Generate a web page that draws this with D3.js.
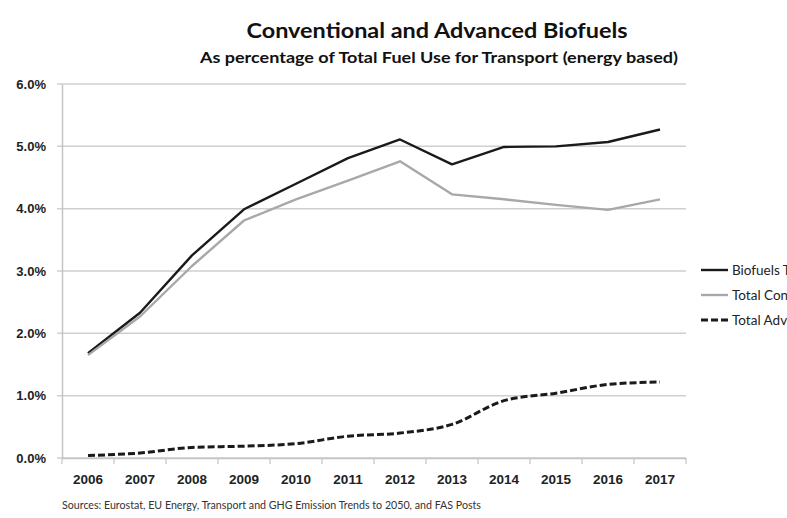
<!DOCTYPE html>
<html>
<head>
<meta charset="utf-8">
<script src="https://cdn.jsdelivr.net/npm/d3@7"></script>
<style>
  body { margin: 0; background: #fff; }
  svg { display: block; font-family: Lato, "Open Sans", sans-serif; }
</style>
</head>
<body>
<div id="chart"></div>
<script>
// chart data
var years = ["2006", "2007", "2008", "2009", "2010", "2011", "2012", "2013", "2014", "2015", "2016", "2017"];
var biofuelsTotal = [1.68, 2.33, 3.25, 3.99, 4.40, 4.81, 5.11, 4.71, 4.99, 5.00, 5.07, 5.27];
var totalConventional = [1.65, 2.27, 3.08, 3.81, 4.15, 4.45, 4.76, 4.23, 4.15, 4.06, 3.98, 4.15];
var totalAdvanced = [0.04, 0.08, 0.17, 0.19, 0.23, 0.35, 0.40, 0.54, 0.92, 1.04, 1.18, 1.22];
var seriesNames = ["Biofuels Total", "Total Conventional", "Total Advanced"];
var yTicks = [0, 1, 2, 3, 4, 5, 6];

var svgWidth = 787;
var svgHeight = 518;
var margin = { top: 84, right: 101, bottom: 60, left: 62 };
var width = svgWidth - margin.left - margin.right;
var height = svgHeight - margin.top - margin.bottom;

var svg = d3.select("#chart")
  .append("svg")
  .attr("width", svgWidth)
  .attr("height", svgHeight);

var chartGroup = svg.append("g")
  .attr("transform", `translate(${margin.left}, ${margin.top})`);

var xScale = d3.scaleBand().domain(years).range([0, width]);
var yScale = d3.scaleLinear().domain([0, 6]).range([height, 0]);

// gridlines
chartGroup.append("g")
  .selectAll("line")
  .data(yTicks)
  .enter()
  .append("line")
  .attr("x1", -5)
  .attr("x2", width)
  .attr("y1", d => yScale(d))
  .attr("y2", d => yScale(d))
  .attr("stroke", "#cfcfcf")
  .attr("stroke-width", 1.5);

// y axis
var leftAxis = d3.axisLeft(yScale)
  .tickValues(yTicks)
  .tickSize(0)
  .tickPadding(16)
  .tickFormat(d => d.toFixed(1) + "%");
var yAxis = chartGroup.append("g").call(leftAxis);
yAxis.select(".domain").attr("stroke", "#c4c4c4").attr("stroke-width", 1.5);
yAxis.selectAll("text")
  .attr("font-size", 13)
  .attr("font-weight", "bold")
  .attr("fill", "#222");

// x axis
var bottomAxis = d3.axisBottom(xScale).tickSize(0).tickPadding(16);
var xAxis = chartGroup.append("g")
  .attr("transform", `translate(0, ${height})`)
  .call(bottomAxis);
xAxis.select(".domain").attr("stroke", "#c4c4c4").attr("stroke-width", 1.5);
xAxis.selectAll("text")
  .attr("font-size", 13.5)
  .attr("font-weight", "bold")
  .attr("fill", "#222");

// category boundary ticks
var bounds = years.map(d => xScale(d)).concat([width]);
xAxis.append("g")
  .selectAll("line")
  .data(bounds)
  .enter()
  .append("line")
  .attr("x1", d => d)
  .attr("x2", d => d)
  .attr("y1", 0)
  .attr("y2", 6)
  .attr("stroke", "#c4c4c4")
  .attr("stroke-width", 1.2);

// lines
var styles = [
  { data: biofuelsTotal, color: "#1a1a1a", width: 2.4, dash: null, curve: d3.curveLinear },
  { data: totalConventional, color: "#a8a8a8", width: 2.4, dash: null, curve: d3.curveLinear },
  { data: totalAdvanced, color: "#1a1a1a", width: 3, dash: "7,3", curve: d3.curveMonotoneX }
];

styles.forEach(function(s) {
  var lineGen = d3.line()
    .x((d, i) => xScale(years[i]) + xScale.bandwidth() / 2)
    .y(d => yScale(d))
    .curve(s.curve);
  chartGroup.append("path")
    .datum(s.data)
    .attr("d", lineGen)
    .attr("fill", "none")
    .attr("stroke", s.color)
    .attr("stroke-width", s.width)
    .attr("stroke-dasharray", s.dash)
    .attr("stroke-linejoin", "round");
});

// legend (runs off the right edge, as in the original)
var legend = svg.append("g").attr("transform", "translate(701, 270)");
styles.forEach(function(s, i) {
  var row = legend.append("g").attr("transform", `translate(0, ${i * 25})`);
  row.append("line")
    .attr("x1", 0)
    .attr("x2", 27)
    .attr("stroke", s.color)
    .attr("stroke-width", s.width)
    .attr("stroke-dasharray", s.dash);
  row.append("text")
    .attr("x", 31)
    .attr("y", 5)
    .attr("font-size", 13.5)
    .attr("fill", "#222")
    .text(seriesNames[i]);
});

// titles
svg.append("text")
  .attr("x", 437)
  .attr("y", 38)
  .attr("text-anchor", "middle")
  .attr("font-size", 21)
  .attr("font-weight", "bold")
  .attr("fill", "#111")
  .attr("textLength", 381)
  .attr("lengthAdjust", "spacingAndGlyphs")
  .text("Conventional and Advanced Biofuels");

svg.append("text")
  .attr("x", 439)
  .attr("y", 63)
  .attr("text-anchor", "middle")
  .attr("font-size", 14.5)
  .attr("font-weight", "bold")
  .attr("fill", "#111")
  .attr("textLength", 478)
  .attr("lengthAdjust", "spacingAndGlyphs")
  .text("As percentage of Total Fuel Use for Transport (energy based)");

// source note
svg.append("text")
  .attr("x", 62)
  .attr("y", 509)
  .attr("font-size", 10.5)
  .attr("fill", "#333")
  .attr("textLength", 419)
  .attr("lengthAdjust", "spacingAndGlyphs")
  .text("Sources: Eurostat, EU Energy, Transport and GHG Emission Trends to 2050, and FAS Posts");
</script>
</body>
</html>
